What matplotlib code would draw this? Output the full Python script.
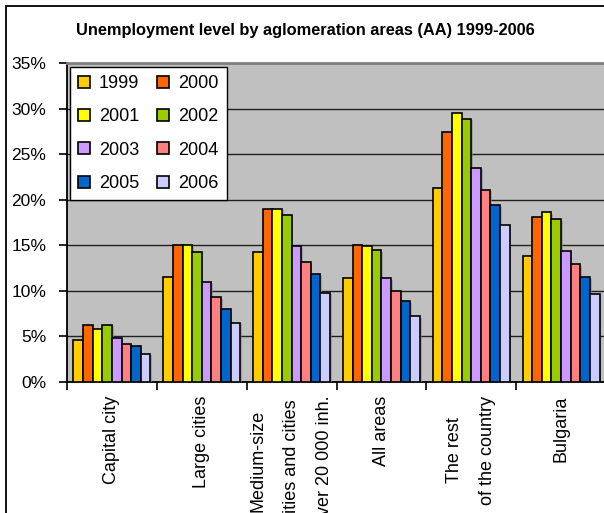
import matplotlib
matplotlib.use("Agg")
import matplotlib.pyplot as plt
import matplotlib.patheffects as pe
from matplotlib import font_manager
from matplotlib.patches import Rectangle
import numpy as np

plt.rcParams['font.family'] = ['Liberation Sans', 'DejaVu Sans']

categories = [
    "Capital city",
    "Large cities",
    "Medium-size\ncities and cities\nover 20 000 inh.",
    "All areas",
    "The rest\nof the country",
    "Bulgaria",
]
years = ["1999", "2000", "2001", "2002", "2003", "2004", "2005", "2006"]

v1999 = [4.6, 11.5, 14.3, 11.4, 21.3, 13.8]
v2000 = [6.3, 15.0, 19.0, 15.0, 27.4, 18.1]
v2001 = [5.8, 15.0, 19.0, 14.9, 29.5, 18.6]
v2002 = [6.3, 14.3, 18.3, 14.5, 28.9, 17.9]
v2003 = [4.8, 11.0, 14.9, 11.4, 23.5, 14.4]
v2004 = [4.2, 9.3, 13.2, 10.0, 21.1, 12.9]
v2005 = [3.9, 8.0, 11.9, 8.9, 19.4, 11.5]
v2006 = [3.1, 6.5, 9.8, 7.2, 17.2, 9.7]

series = [v1999, v2000, v2001, v2002, v2003, v2004, v2005, v2006]
colors = ["#FFCC00", "#FF6600", "#FFFF00", "#99CC00",
          "#CC99FF", "#FF8080", "#0066CC", "#CCCCFF"]

yticks = [0, 5, 10, 15, 20, 25, 30, 35]
ytick_labels = ["0%", "5%", "10%", "15%", "20%", "25%", "30%", "35%"]


def narrow_family():
    # use a condensed face for the title when one is installed
    try:
        font_manager.findfont(font_manager.FontProperties(
            family="Liberation Sans Narrow", weight="bold"),
            fallback_to_default=False)
        return "Liberation Sans Narrow", 13.5
    except Exception:
        return "Liberation Sans", 11.8


W, H = 604, 513
fig = plt.figure(figsize=(W / 100, H / 100), dpi=100)

# outer chart frame
fig.patches.append(Rectangle((6 / W, -0.1), 1.2, 1 - 6 / H + 0.1,
                             transform=fig.transFigure, fill=False,
                             edgecolor="black", linewidth=1.3))

ax = fig.add_axes([67 / W, 1 - 382 / H, 539 / W, 319 / H])
ax.set_facecolor("#C0C0C0")

x = np.arange(len(categories))
bw = 0.107
handles = []
for i, (vals, col, yr) in enumerate(zip(series, colors, years)):
    bars = ax.bar(x + (i - 3.5) * bw, vals, width=bw, color=col,
                  edgecolor="black", linewidth=1.2, zorder=3, label=yr)
    for b in bars:
        b.set_path_effects([pe.SimplePatchShadow(offset=(1.2, -1.2),
                                                 shadow_rgbFace="#888888",
                                                 alpha=0.6),
                            pe.Normal()])
    handles.append(bars)

ax.set_xlim(-0.5, len(categories) - 0.5)
ax.set_ylim(0, 35)
ax.set_yticks(yticks)
ax.set_yticklabels(ytick_labels, fontsize=12.5)
ax.yaxis.grid(True, color="#202020", linewidth=1.0, zorder=0)
ax.set_axisbelow(True)

# category boundary ticks with centered labels
ax.set_xticks(np.arange(len(categories) + 1) - 0.5)
ax.set_xticklabels([])
ax.set_xticks(x, minor=True)
ax.set_xticklabels(categories, minor=True, rotation=90, fontsize=13,
                   va="top", ha="center", multialignment="center",
                   linespacing=2.25)
ax.tick_params(axis="x", which="minor", length=0, pad=10)
ax.tick_params(axis="x", which="major", direction="out", length=6,
               width=1.2, color="black")
ax.tick_params(axis="y", direction="out", length=6, width=1.2, pad=9)

ax.spines["right"].set_visible(False)
ax.spines["top"].set_color("#808080")
ax.spines["top"].set_linewidth(2)
ax.spines["left"].set_linewidth(1.3)
ax.spines["bottom"].set_linewidth(1.3)

tfam, tsize = narrow_family()
fig.text(305 / W, 1 - 31 / H,
         "Unemployment level by aglomeration areas (AA) 1999-2006",
         ha="center", va="center", fontsize=tsize, fontweight="bold",
         family=[tfam, "DejaVu Sans"])

order = [0, 2, 4, 6, 1, 3, 5, 7]
leg = ax.legend([handles[k] for k in order], [years[k] for k in order],
                ncol=2, loc="upper left",
                bbox_to_anchor=(70 / W, 1 - 67 / H),
                bbox_transform=fig.transFigure, borderaxespad=0,
                fontsize=13, frameon=True, fancybox=False,
                edgecolor="black", facecolor="white", framealpha=1,
                handlelength=0.65, handleheight=0.65, handletextpad=0.5,
                columnspacing=1.0, labelspacing=0.9, borderpad=0.45)
leg.get_frame().set_linewidth(1.0)
for h in leg.legend_handles:
    h.set_path_effects([])

fig.savefig("out.png", dpi=100)
